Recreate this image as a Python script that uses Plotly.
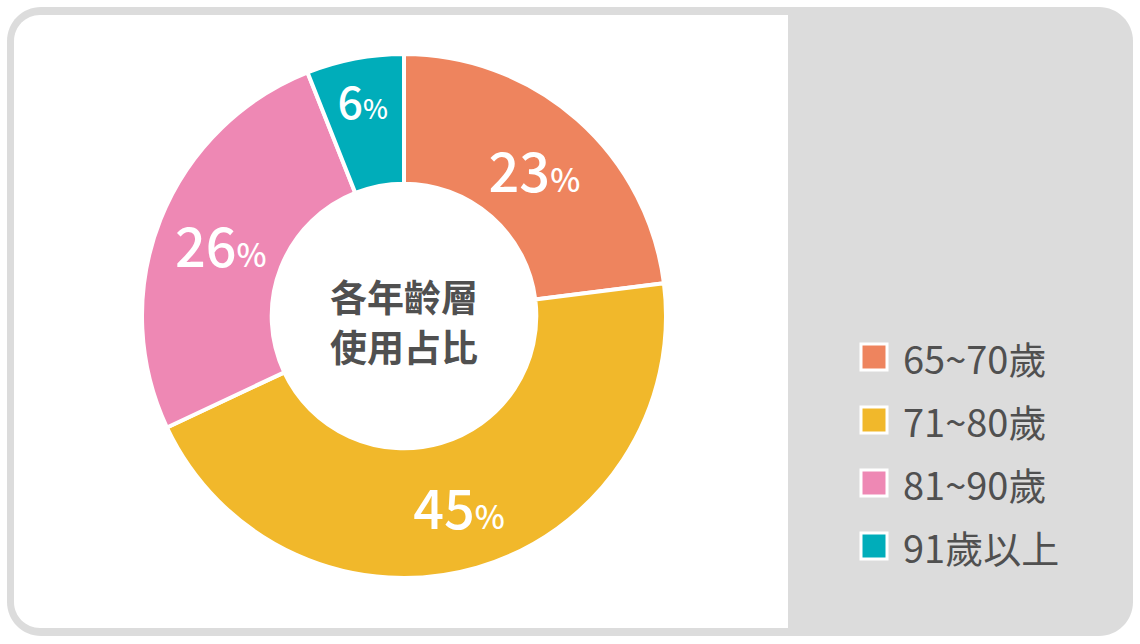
import plotly.graph_objects as go

labels = ["65~70歲", "71~80歲", "81~90歲", "91歲以上"]
values = [23, 45, 26, 6]
colors = ["#EE845E", "#F1B82B", "#EE88B4", "#00ADBA"]
center_text = ["各年齡層", "使用占比"]

W, H = 1140, 644
FONT = "Noto Sans CJK TC"
GRAY = "#DCDCDC"
TXT = "#505050"


def px(x):
    return x / W


def py(y):
    return 1 - y / H


def rrect(x0, y0, x1, y1, rl, rr):
    k = 0.5523
    p = []
    p.append(f"M {px(x0 + rl)},{py(y0)}")
    p.append(f"L {px(x1 - rr)},{py(y0)}")
    if rr:
        p.append(f"C {px(x1 - rr + rr * k)},{py(y0)} {px(x1)},{py(y0 + rr - rr * k)} {px(x1)},{py(y0 + rr)}")
    p.append(f"L {px(x1)},{py(y1 - rr)}")
    if rr:
        p.append(f"C {px(x1)},{py(y1 - rr + rr * k)} {px(x1 - rr + rr * k)},{py(y1)} {px(x1 - rr)},{py(y1)}")
    p.append(f"L {px(x0 + rl)},{py(y1)}")
    if rl:
        p.append(f"C {px(x0 + rl - rl * k)},{py(y1)} {px(x0)},{py(y1 - rl + rl * k)} {px(x0)},{py(y1 - rl)}")
    p.append(f"L {px(x0)},{py(y0 + rl)}")
    if rl:
        p.append(f"C {px(x0)},{py(y0 + rl - rl * k)} {px(x0 + rl - rl * k)},{py(y0)} {px(x0 + rl)},{py(y0)}")
    p.append("Z")
    return " ".join(p)


shapes = [
    dict(type="path", xref="paper", yref="paper", layer="below",
         path=rrect(7, 7, 1133, 636, 34, 34), fillcolor=GRAY, line=dict(width=0)),
    dict(type="path", xref="paper", yref="paper", layer="below",
         path=rrect(14, 15, 788, 628, 26, 0), fillcolor="white", line=dict(width=0)),
]

# Pie geometry (pixels)
cx, cy, R = 404, 316, 262
fig = go.Figure()
fig.add_trace(go.Pie(
    labels=labels,
    values=values,
    sort=False,
    direction="clockwise",
    rotation=0,
    hole=0.505,
    marker=dict(colors=colors, line=dict(color="white", width=4)),
    texttemplate="%{value}<span style='font-size:32px'>%</span>",
    textposition="inside",
    insidetextorientation="horizontal",
    textfont=dict(family=FONT, size=54, color="white", weight=500),
    domain=dict(x=[px(cx - R), px(cx + R)], y=[py(cy + R), py(cy - R)]),
    showlegend=False,
    hoverinfo="label+percent",
))

annotations = []
for j, line in enumerate(center_text):
    annotations.append(dict(text=line, x=px(cx), y=py(296 + j * 50), xref="paper", yref="paper",
                            showarrow=False, font=dict(family=FONT, size=37, color=TXT, weight=600),
                            xanchor="center", yanchor="middle"))

# Manual legend
lx, ly0, dy, sq = 874, 357, 63, 26
for i, (lab, col) in enumerate(zip(labels, colors)):
    yc = ly0 + i * dy
    shapes.append(dict(type="rect", xref="paper", yref="paper",
                       x0=px(lx - sq / 2), x1=px(lx + sq / 2),
                       y0=py(yc + sq / 2), y1=py(yc - sq / 2),
                       fillcolor=col, line=dict(color="white", width=3)))
    annotations.append(dict(text=lab, x=px(901), y=py(yc), xref="paper", yref="paper",
                            showarrow=False, xanchor="left", yanchor="middle",
                            font=dict(family=FONT, size=38, color=TXT)))

fig.update_layout(
    width=W, height=H,
    margin=dict(l=0, r=0, t=0, b=0),
    paper_bgcolor="white",
    plot_bgcolor="white",
    shapes=shapes,
    annotations=annotations,
    showlegend=False,
)

fig.write_html("out.html", config={"displayModeBar": False},
               post_script="document.body.style.margin='0';document.body.style.overflow='hidden';")
